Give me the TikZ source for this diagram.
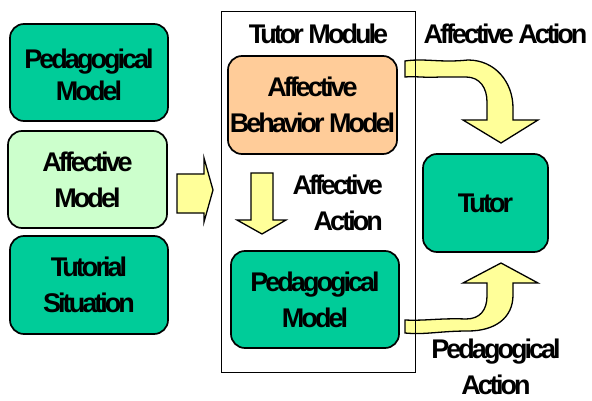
\documentclass[tikz,border=0pt]{standalone}
\usepackage{fontspec}
\setmainfont{Liberation Sans}[LetterSpace=-11]
\newcommand\diagfont{\fontsize{27}{36}\selectfont\bfseries}
\definecolor{modelgreen}{HTML}{00CC99}
\definecolor{palegreen}{HTML}{CCFFCC}
\definecolor{peach}{HTML}{FFCC99}
\definecolor{arrowyellow}{HTML}{FFFF99}
\begin{document}
\begin{tikzpicture}[x=1pt,y=-1pt,
  box/.style={draw=black, line width=1.7pt, rounded corners=14pt, align=center,
    font=\diagfont, inner sep=0pt},
  label/.style={font=\diagfont, inner sep=0pt, align=center},
  blockarrow/.style={draw=black, line width=1.3pt, fill=arrowyellow, line join=miter}]
\useasboundingbox (0,0) rectangle (592,401);

% input models on the left
\node[box, fill=modelgreen, minimum width=158pt, minimum height=97pt] (pedleft) at (89,72.5) {};
\node[label, font=\fontsize{27}{32}\selectfont\bfseries] (pedlefttext) at (89,74.5) {Pedagogical\\Model};
\node[box, fill=palegreen, minimum width=159pt, minimum height=97pt] (affleft) at (87.5,179.5) {Affective\\Model};
\node[box, fill=modelgreen, minimum width=158pt, minimum height=98pt] (tutsit) at (89,285) {Tutorial\\Situation};

% block arrows
\draw[blockarrow] (177,174) -- (204,174) -- (204,158) -- (213,190) -- (204,222) -- (204,213) -- (177,213) -- cycle;
\draw[blockarrow] (251,173) -- (273,173) -- (273,220) -- (286,220) -- (262,234) -- (237,220) -- (251,220) -- cycle;
\draw[blockarrow] (405,61) .. controls (425,58) and (440,63) .. (468,60)
  .. controls (495,60) and (513,82) .. (513,108) -- (513,120) -- (538,120) -- (501,143)
  -- (463,120) -- (487,120) -- (487,102) .. controls (487,88) and (480,77) .. (466,77)
  -- (440,77) .. controls (425,78) and (415,76) .. (405,77) -- cycle;
\draw[blockarrow] (405,320) .. controls (425,321) and (440,318) .. (466,319)
  .. controls (480,319) and (487,310) .. (487,296) -- (487,283) -- (463,283) -- (501,263)
  -- (538,283) -- (513,283) -- (513,295) .. controls (513,318) and (495,331) .. (468,331)
  .. controls (440,331) and (425,335) .. (405,333) -- cycle;

% tutor module container
\node[draw=black, line width=1pt, minimum width=194pt, minimum height=360pt, inner sep=0pt] (module) at (318,192) {};
\node[label, anchor=base] (modtitle) at (318.5,44) {Tutor Module};
\node[box, fill=peach, minimum width=169pt, minimum height=98pt] (affbeh) at (312.5,105) {Affective\\Behavior Model};
\node[box, fill=modelgreen, minimum width=168pt, minimum height=97pt] (pedin) at (315,299.5) {Pedagogical\\Model};
\node[label, align=right, anchor=east] (affin) at (383,202.5) {Affective\\Action};

% tutor and actions
\node[box, fill=modelgreen, minimum width=125pt, minimum height=98pt] (tutor) at (485.5,203) {Tutor};
\node[label, anchor=base] (affout) at (505.5,44) {Affective Action};
\node[label] (pedout) at (496,367) {Pedagogical\\Action};
\end{tikzpicture}
\end{document}
